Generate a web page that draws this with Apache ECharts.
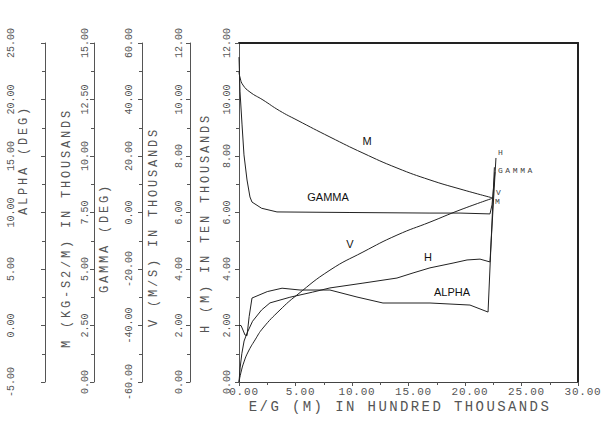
<!DOCTYPE html>
<html><head><meta charset="utf-8">
<script src="https://cdn.jsdelivr.net/npm/echarts@6/dist/echarts.min.js"></script>
<style>html,body{margin:0;padding:0;background:#fff}#c{width:611px;height:422px}</style>
</head><body><div id="c"></div>
<script>
// ---- data (E/G in hundred thousands of metres) ----
const egM     = [0, 0.1, 0.35, 0.97, 2.12, 3.6, 5.13, 8.05, 10.97, 13.98, 16.90, 19.56, 22.48];
const mVals   = [13.72, 13.45, 13.14, 12.83, 12.48, 12.0, 11.59, 10.84, 10.13, 9.47, 8.94, 8.54, 8.14];

const egV     = [0, 0.18, 0.44, 0.80, 1.42, 2.12, 3.63, 5.13, 8.05, 10.97, 13.98, 16.90, 19.56, 22.48];
const vVals   = [0, 0.35, 0.71, 1.06, 1.49, 1.91, 2.55, 3.08, 3.96, 4.60, 5.20, 5.66, 6.09, 6.51];

const egH     = [0, 0.1, 0.25, 0.45, 0.71, 1.2, 2.0, 2.74, 4.5, 6.5, 8.05, 10.97, 13.98, 15.4, 16.9, 18.94, 20.18, 21.33, 22.21, 22.74];
const hVals   = [0, 0.5, 1.0, 1.45, 1.73, 2.15, 2.55, 2.80, 3.0, 3.18, 3.33, 3.50, 3.68, 3.86, 4.04, 4.21, 4.32, 4.35, 4.25, 7.93];

const egGamma = [0, 0.09, 0.27, 0.44, 0.71, 0.97, 1.15, 2.0, 3.36, 9.82, 16.9, 19.56, 22.21, 22.39, 22.65];
const gammaVals = [55, 42.7, 31.0, 20.4, 11.5, 5.5, 3.7, 1.5, 0.2, 0, -0.2, -0.2, -0.5, 2.7, 14.3];

const egAlpha = [0, 0.18, 0.35, 0.53, 0.71, 0.9, 1.15, 2.5, 3.81, 5.4, 8.05, 10.44, 12.74, 16.9, 20.44, 22.04, 22.6];
const alphaVals = [0, 0, -0.4, -0.84, -0.9, 0.8, 2.43, 3.0, 3.3, 3.14, 3.14, 2.52, 1.99, 1.99, 1.81, 1.19, 14.0];

// axis ranges [min, max, interval]
const xRange     = [0, 30, 5];
const hRange     = [0, 12, 2];
const vRange     = [0, 12, 2];
const gammaRange = [-60, 60, 20];
const mRange     = [0, 15, 2.5];
const alphaRange = [-5, 25, 5];

const xTitle = 'E/G (M) IN HUNDRED THOUSANDS';
const yTitles = ['ALPHA (DEG)', 'M (KG-S2/M) IN THOUSANDS', 'GAMMA (DEG)', 'V (M/S) IN THOUSANDS', 'H (M) IN TEN THOUSANDS'];

// ---- chart ----
const MONO = 'Liberation Mono';
const SANS = 'Liberation Sans';
const GREY = '#555';
const pairs = (xs, ys) => xs.map((x, i) => [x, ys[i]]);
const fmt = v => v.toFixed(2);

function yAx(r, offset, margin) {
  return {
    type: 'value', position: 'left', offset: offset,
    min: r[0], max: r[1], interval: r[2],
    axisLine: { show: true, onZero: false, lineStyle: { color: GREY, width: 1 } },
    axisTick: { show: true, length: 4, lineStyle: { color: GREY } },
    minorTick: { show: true, splitNumber: 2, length: 3, lineStyle: { color: GREY } },
    splitLine: { show: false },
    axisLabel: { rotate: 90, margin: margin, formatter: fmt, fontFamily: MONO, fontSize: 10, color: GREY, showMinLabel: true, showMaxLabel: true }
  };
}

function curve(name, yIdx, xs, ys, smooth, endText, endOffset, mp) {
  const s = {
    type: 'line', name: name, yAxisIndex: yIdx, data: pairs(xs, ys),
    showSymbol: false, smooth: smooth,
    lineStyle: { color: '#222', width: 1 }, itemStyle: { color: '#222' },
    emphasis: { disabled: true }
  };
  if (endText) {
    s.endLabel = { show: true, formatter: endText, offset: endOffset, fontFamily: MONO, fontSize: 8, color: '#444', distance: 0 };
  }
  if (mp) {
    s.markPoint = {
      symbol: 'rect', symbolSize: 1, itemStyle: { color: 'rgba(0,0,0,0)' },
      label: { show: true, position: 'inside', formatter: name, fontFamily: SANS, fontSize: 11, color: '#111' },
      data: [{ coord: mp }]
    };
  }
  return s;
}

const dom = document.getElementById('c');
const chart = echarts.init(dom, null, { renderer: 'svg', width: 611, height: 422 });

function rotTitle(text, x, y) {
  return { type: 'text', x: x, y: y, rotation: Math.PI / 2,
    style: { text: text, x: 0, y: 0, align: 'center', verticalAlign: 'middle', font: '12px "' + MONO + '"', fill: GREY } };
}

chart.setOption({
  animation: false,
  grid: { left: 239, right: 33, top: 43, bottom: 40 },
  xAxis: [
    { type: 'value', position: 'bottom', min: xRange[0], max: xRange[1], interval: xRange[2],
      axisLine: { onZero: false, lineStyle: { color: '#444', width: 1 } },
      axisTick: { show: true, length: 4, lineStyle: { color: GREY } },
      minorTick: { show: true, splitNumber: 2, length: 3, lineStyle: { color: GREY } },
      splitLine: { show: false },
      axisLabel: { formatter: fmt, fontFamily: MONO, fontSize: 11, color: GREY, margin: 4, padding: [0, 0, 0, 10] } },
    { type: 'value', position: 'top', min: xRange[0], max: xRange[1],
      axisLine: { onZero: false, lineStyle: { color: '#222', width: 2 } },
      axisTick: { show: false }, axisLabel: { show: false }, splitLine: { show: false } }
  ],
  yAxis: [
    yAx(hRange, 0, 7),
    yAx(vRange, 49, 6),
    yAx(gammaRange, 97, 8),
    yAx(mRange, 145, 4),
    yAx(alphaRange, 194, 29),
    { type: 'value', position: 'right', min: hRange[0], max: hRange[1],
      axisLine: { show: true, onZero: false, lineStyle: { color: '#222', width: 2 } },
      axisTick: { show: false }, axisLabel: { show: false }, splitLine: { show: false } }
  ],
  graphic: [
    rotTitle(yTitles[0], 24, 160),
    rotTitle(yTitles[1], 67, 228),
    rotTitle(yTitles[2], 105, 238),
    rotTitle(yTitles[3], 154, 227),
    rotTitle(yTitles[4], 206, 223),
    { type: 'text', x: 400, y: 407,
      style: { text: xTitle, x: 0, y: 0, align: 'center', verticalAlign: 'middle', font: '14px "' + MONO + '"', fill: GREY } }
  ],
  series: [
    curve('M', 3, egM, mVals, 0.5, 'M', [2, 3], [11.33, 10.66]),
    curve('GAMMA', 2, egGamma, gammaVals, false, 'GAMMA', [3, -2], [7.88, 5.5]),
    curve('V', 1, egV, vVals, 0.5, 'V', [3, -6], [9.82, 4.88]),
    curve('H', 0, egH, hVals, false, 'H', [2, -5], [16.73, 4.42]),
    curve('ALPHA', 4, egAlpha, alphaVals, false, null, null, [18.85, 2.97])
  ]
});

const spacing = { 14: 2.4, 12: 2.8, 8: 2.6, 11: 0.8 };
function spaceOut() {
  dom.querySelectorAll('text').forEach(t => {
    const cs = getComputedStyle(t);
    const fs = Math.round(parseFloat(cs.fontSize));
    const ls = /Mono/i.test(cs.fontFamily) ? (spacing[fs] || 0) : 0;
    t.style.letterSpacing = ls ? ls + 'px' : '';
  });
}
chart.on('finished', spaceOut);
spaceOut();
</script>
</body></html>
